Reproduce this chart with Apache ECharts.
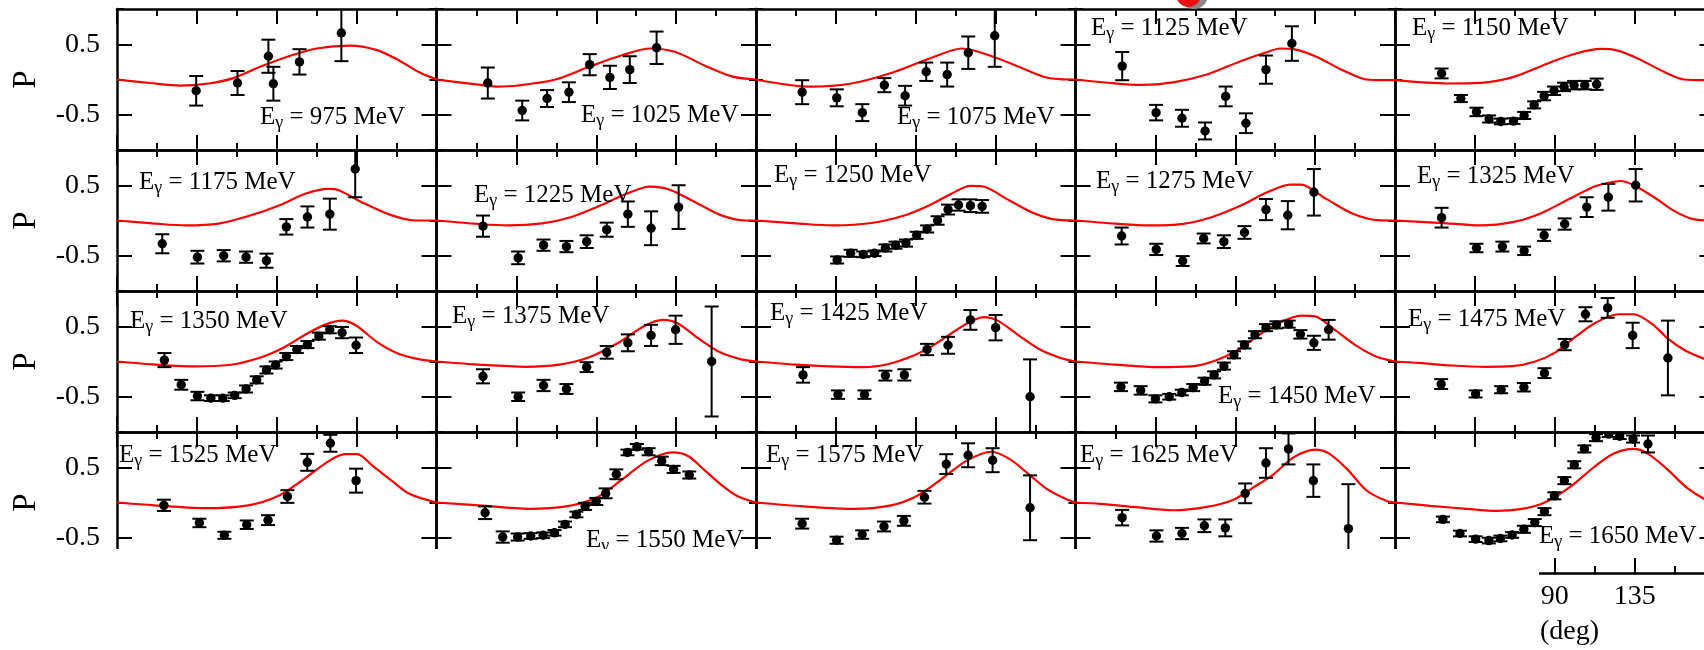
<!DOCTYPE html>
<html><head><meta charset="utf-8">
<script src="https://cdn.jsdelivr.net/npm/echarts@6/dist/echarts.min.js"></script>
<style>html,body{margin:0;padding:0;background:#fff}#c{width:1704px;height:650px}</style>
</head><body><div id="c"></div>
<script>
// ---------- data: [angle (deg), P, error] for measured points, [angle, P] for fit curves ----------
const energies = [975,1025,1075,1125,1150,1175,1225,1250,1275,1325,1350,1375,1425,1450,1475,1525,1550,1575,1625,1650];
const xTickStep = 45;
const yTickValues = [-0.5, 0.5];

const pts975 = [[44.6,-0.16,0.21],[67.9,-0.05,0.17],[85.3,0.33,0.235],[88.1,-0.06,0.24],[102.8,0.25,0.18],[126.4,0.66,0.40]];
const fit975 = [[0,0],[18.8,-0.05],[35.6,-0.086],[50.6,-0.06],[65.6,0.02],[80.6,0.18],[95.6,0.32],[112.5,0.44],[131,0.48],[146,0.42],[159,0.27],[170,0.105],[180,0]];

const pts1025 = [[28.9,-0.05,0.22],[48.3,-0.44,0.14],[62.3,-0.27,0.12],[74.6,-0.18,0.14],[86.3,0.21,0.15],[97.7,0.03,0.165],[108.9,0.14,0.19],[124,0.45,0.23]];
const fit1025 = [[0,0],[22.6,-0.07],[34,-0.1],[46,-0.085],[67,0],[86,0.18],[104,0.34],[120.6,0.44],[134.6,0.39],[151,0.2],[167,0.04],[180,0]];

const pts1075 = [[26,-0.18,0.17],[45.5,-0.26,0.12],[59.9,-0.47,0.12],[72.3,-0.08,0.10],[84,-0.23,0.14],[95.9,0.11,0.13],[107.7,0.07,0.17],[119.6,0.38,0.23],[134.5,0.62,0.44]];
const fit1075 = [[0,0],[29.6,-0.10],[53,-0.06],[77,0.10],[100,0.32],[116,0.44],[134,0.32],[148,0.18],[162,0.04],[171,0.005],[180,0]];

const pts1125 = [[26.3,0.19,0.2],[45.4,-0.47,0.11],[60,-0.55,0.12],[73,-0.73,0.12],[84.6,-0.24,0.14],[96,-0.62,0.14],[107.3,0.14,0.2],[121.9,0.51,0.245]];
const fit1125 = [[0,0],[20,-0.05],[36.6,-0.076],[55,-0.04],[74,0.07],[93,0.26],[108,0.39],[115.3,0.44],[122.8,0.43],[136,0.32],[149,0.15],[162,0.01],[171,-0.01],[180,-0.01]];

const pts1150 = [[26.25,0.086,0.07],[37.1,-0.27,0.05],[45.9,-0.46,0.06],[53,-0.56,0.05],[59.6,-0.595,0.04],[66.75,-0.59,0.04],[72.75,-0.51,0.05],[78.4,-0.36,0.05],[84,-0.235,0.06],[89.6,-0.16,0.06],[95.25,-0.105,0.06],[100.9,-0.08,0.06],[106.9,-0.08,0.06],[113.6,-0.067,0.08]];
const fit1150 = [[0,-0.01],[29.6,-0.057],[48,-0.048],[67,0.038],[86,0.228],[101,0.362],[116,0.433],[121.5,0.43],[134.6,0.324],[151.5,0.11],[162.75,0.0],[174,-0.01],[180,-0.01]];

const pts1175 = [[25.5,-0.33,0.135],[45.3,-0.52,0.09],[60.1,-0.50,0.08],[72.7,-0.52,0.08],[84.2,-0.57,0.10],[95.4,-0.09,0.11],[107.3,0.05,0.15],[119.9,0.09,0.22],[134.2,0.73,0.40]];
const fit1175 = [[0,0],[20,-0.04],[39,-0.07],[58,-0.04],[75,0.07],[92,0.22],[106,0.38],[119,0.45],[125,0.43],[139.5,0.24],[154,0.08],[168,0],[180,0]];

const pts1225 = [[26.2,-0.08,0.15],[46,-0.53,0.09],[60.3,-0.35,0.08],[73.2,-0.37,0.08],[84.6,-0.30,0.09],[95.9,-0.13,0.1],[107.8,0.09,0.18],[120.9,-0.11,0.24],[136.4,0.19,0.31]];
const fit1225 = [[0,0],[21.5,-0.045],[40.5,-0.07],[59.6,-0.04],[76,0.05],[93,0.22],[107,0.38],[120.4,0.48],[131,0.44],[145,0.27],[159.8,0.08],[174,0],[180,0]];

const pts1250 = [[45.7,-0.56,0.05],[53.3,-0.465,0.05],[60.4,-0.48,0.04],[66.8,-0.465,0.04],[72.9,-0.39,0.05],[78.6,-0.35,0.05],[84.5,-0.32,0.05],[90.5,-0.21,0.05],[96.4,-0.12,0.05],[102.3,0.0,0.06],[108.2,0.155,0.07],[114.1,0.22,0.08],[120.8,0.21,0.09],[127.4,0.20,0.09]];
const fit1250 = [[0,0],[22.5,-0.04],[43.8,-0.07],[65,-0.035],[84,0.075],[98,0.22],[110,0.38],[120.8,0.49],[129,0.475],[141,0.31],[155,0.12],[167,0.02],[180,0]];

const pts1275 = [[26,-0.22,0.12],[45.5,-0.41,0.08],[60.4,-0.575,0.07],[72.2,-0.255,0.07],[83.6,-0.30,0.09],[95.2,-0.17,0.09],[107.3,0.155,0.15],[119.6,0.075,0.2],[134.3,0.40,0.33]];
const fit1275 = [[0,0],[22.6,-0.045],[41.7,-0.07],[60.8,-0.047],[77,0.05],[93.8,0.22],[108,0.40],[121,0.51],[127,0.51],[141,0.31],[156,0.1],[170,0.005],[180,0]];

const pts1325 = [[26.25,0.04,0.14],[45.9,-0.39,0.06],[60.5,-0.37,0.07],[72.75,-0.43,0.06],[84,-0.21,0.08],[95.6,-0.05,0.08],[108,0.19,0.14],[120.2,0.33,0.19],[135.6,0.5,0.23]];
const fit1325 = [[0,0],[29.6,-0.04],[48,-0.07],[67,-0.02],[82,0.1],[97,0.29],[112,0.48],[119.6,0.53],[127,0.56],[134.6,0.5],[146,0.33],[157,0.14],[168,0.02],[180,0]];

const pts1350 = [[26.7,0.02,0.1],[36.2,-0.33,0.07],[45.3,-0.49,0.06],[52.9,-0.52,0.04],[59.6,-0.52,0.04],[66.3,-0.48,0.04],[72.7,-0.39,0.05],[78.7,-0.26,0.05],[84.2,-0.12,0.05],[89.4,-0.05,0.05],[95.4,0.07,0.05],[101.3,0.17,0.05],[107.3,0.24,0.05],[113.7,0.36,0.05],[119.9,0.45,0.05],[126.8,0.41,0.08],[134.7,0.23,0.11]];
const fit1350 = [[0,0],[20,-0.04],[44,-0.07],[63,-0.05],[80,0.05],[94,0.2],[106,0.38],[118,0.53],[127,0.58],[134.7,0.51],[146.6,0.275],[158.6,0.11],[170.5,0.03],[180,0]];

const pts1375 = [[26.2,-0.21,0.1],[46,-0.50,0.06],[60.3,-0.34,0.08],[73.2,-0.39,0.07],[84.6,-0.08,0.07],[95.9,0.13,0.09],[107.8,0.265,0.12],[120.9,0.37,0.15],[134.7,0.45,0.2],[155,0.0,0.78]];
const fit1375 = [[0,0],[21.5,-0.04],[50,-0.075],[69,-0.045],[86,0.06],[102.5,0.265],[116.8,0.5],[127.6,0.59],[136,0.54],[148,0.32],[159.8,0.13],[171.7,0.03],[180,0]];

const pts1425 = [[26.5,-0.19,0.11],[46.2,-0.47,0.06],[61.1,-0.47,0.06],[72.9,-0.2,0.07],[83.6,-0.19,0.08],[96.4,0.17,0.08],[108.2,0.23,0.12],[120.8,0.59,0.14],[135,0.48,0.18],[154.4,-0.50,0.53]];
const fit1425 = [[0,0],[22.5,-0.045],[41.4,-0.07],[60.4,-0.08],[74.6,-0.035],[88.8,0.085],[100.6,0.24],[112.5,0.44],[122,0.58],[128.4,0.63],[136.2,0.58],[148,0.37],[160,0.17],[171.7,0.05],[180,0]];

const pts1450 = [[25.6,-0.36,0.06],[36.7,-0.41,0.06],[45,-0.53,0.05],[52.8,-0.5,0.04],[59.9,-0.44,0.04],[66.3,-0.37,0.05],[72.7,-0.28,0.05],[78.1,-0.19,0.05],[83.6,-0.065,0.05],[89.3,0.095,0.05],[95.2,0.235,0.05],[101.1,0.38,0.05],[107.3,0.48,0.05],[113.2,0.52,0.05],[120.1,0.53,0.05],[126.7,0.385,0.06],[134.3,0.265,0.1],[142.6,0.45,0.14]];
const fit1450 = [[0,0],[22.5,-0.045],[46.2,-0.08],[65,-0.07],[79,0.015],[91,0.155],[103,0.37],[114.8,0.545],[127,0.65],[135,0.64],[145.6,0.46],[157.5,0.235],[169,0.075],[180,0]];

const pts1475 = [[26,-0.32,0.07],[45.4,-0.46,0.05],[59.8,-0.40,0.05],[72.6,-0.365,0.06],[84.2,-0.165,0.07],[95.6,0.24,0.08],[107.3,0.67,0.1],[119.8,0.76,0.14],[133.9,0.37,0.18],[153.75,0.05,0.53]];
const fit1475 = [[0,0],[13.5,-0.02],[32,-0.057],[51,-0.075],[66,-0.066],[79,0],[90.4,0.13],[101.6,0.35],[113,0.55],[126,0.67],[134.4,0.67],[144.75,0.535],[154,0.32],[163.5,0.155],[174,0.04],[180,0]];

const pts1525 = [[26.4,-0.04,0.08],[46.4,-0.29,0.06],[60.5,-0.465,0.05],[73.1,-0.315,0.06],[85.1,-0.25,0.07],[96,0.085,0.09],[107.2,0.57,0.12],[120.2,0.84,0.12],[134.7,0.31,0.17]];
const fit1525 = [[0,0],[21,-0.04],[49,-0.08],[73.8,-0.04],[91.4,0.1],[105.5,0.335],[119.5,0.59],[128.3,0.685],[135.4,0.685],[144,0.52],[154.7,0.31],[165,0.12],[180,0]];

const pts1550 = [[27.4,-0.145,0.09],[37.3,-0.49,0.08],[45.7,-0.49,0.05],[53.1,-0.475,0.04],[60.1,-0.465,0.04],[66.5,-0.43,0.04],[72.4,-0.31,0.04],[78.8,-0.17,0.04],[83.7,-0.055,0.05],[90,0.015,0.05],[95.3,0.13,0.07],[101.3,0.40,0.07],[107.6,0.71,0.04],[112.9,0.79,0.04],[119.5,0.72,0.05],[126.9,0.59,0.06],[133.6,0.47,0.05],[142.4,0.39,0.05]];
const fit1550 = [[0,0],[23.9,-0.04],[52,-0.09],[73,-0.055],[90.7,0.075],[104.8,0.33],[118.8,0.59],[132.9,0.71],[141.7,0.66],[150.5,0.47],[161,0.24],[170,0.085],[180,0]];

const pts1575 = [[26,-0.30,0.07],[45.4,-0.535,0.05],[59.8,-0.455,0.06],[72.1,-0.34,0.07],[83.3,-0.26,0.07],[94.9,0.075,0.09],[107.2,0.545,0.14],[119.5,0.67,0.17],[133.3,0.60,0.17],[154.4,-0.075,0.46]];
const fit1575 = [[0,0],[27,-0.055],[55,-0.09],[76,-0.04],[90.4,0.09],[104.4,0.33],[118.5,0.59],[132.6,0.72],[143,0.615],[153.7,0.40],[164,0.19],[174.6,0.05],[180,0]];

const pts1625 = [[26.25,-0.215,0.11],[45.6,-0.475,0.08],[60,-0.44,0.08],[72.6,-0.33,0.09],[84.4,-0.36,0.12],[95.6,0.13,0.14],[107.3,0.56,0.21],[120,0.76,0.22],[134,0.31,0.23],[153.75,-0.37,0.63]];
const fit1625 = [[0,0],[14,-0.02],[32.8,-0.062],[55,-0.11],[74,-0.062],[89,0.04],[100,0.21],[111.6,0.40],[122.8,0.64],[135,0.75],[142.5,0.70],[152.8,0.48],[164,0.17],[175.3,0.02],[180,0]];

const pts1650 = [[27,-0.24,0.04],[36.6,-0.44,0.04],[45.4,-0.52,0.04],[52.9,-0.54,0.04],[59.4,-0.51,0.04],[66,-0.46,0.04],[72.6,-0.38,0.05],[78.75,-0.285,0.05],[84.2,-0.13,0.05],[89.8,0.095,0.05],[95.4,0.31,0.05],[101,0.535,0.05],[106.7,0.76,0.05],[113.25,0.92,0.05],[120.4,0.97,0.04],[126.6,0.94,0.04],[134.1,0.90,0.05],[142.5,0.83,0.12]];
const fit1650 = [[0,0],[20,-0.048],[38.8,-0.086],[57.6,-0.12],[70.7,-0.095],[82,-0.024],[91.3,0.095],[100.7,0.26],[112,0.5],[123,0.69],[134.4,0.76],[142,0.70],[153,0.48],[164.4,0.21],[174.2,0.05],[180,0]];

const panelPoints = [pts975,pts1025,pts1075,pts1125,pts1150,pts1175,pts1225,pts1250,pts1275,pts1325,pts1350,pts1375,pts1425,pts1450,pts1475,pts1525,pts1550,pts1575,pts1625,pts1650];
const panelFits = [fit975,fit1025,fit1075,fit1125,fit1150,fit1175,fit1225,fit1250,fit1275,fit1325,fit1350,fit1375,fit1425,fit1450,fit1475,fit1525,fit1550,fit1575,fit1625,fit1650];

// ---------- layout / style ----------
const FONT = "'Liberation Serif','Times New Roman',serif";
const LEFT0 = 117, COLW = 319.5, TOP0 = 9, ROWH = 141;
// label anchor: left x of "E", vertical centre of capitals
const labelPos = [[260,117],[581,115],[897,117],[1091,28],[1412,28],
                  [139,182],[474,195],[774,175],[1096,181],[1417,176],
                  [130,321],[452,316],[770,313],[1218,396],[1408,319],
                  [119,455],[586,540],[766,455],[1080,455],[1539,536]];

const mctx = document.createElement('canvas').getContext('2d');
function tw(t, s){ mctx.font = s + "px 'Liberation Serif'"; return mctx.measureText(t).width; }

const grids = [], xAxes = [], yAxes = [], series = [], graphics = [];
const black = '#000';
function errRender(params, api){
  const x = api.value(0), y = api.value(1), e = api.value(2);
  const p = api.coord([x, y]), t = api.coord([x, y + e]), b = api.coord([x, y - e]);
  const cw = 7, ls = {stroke: black, lineWidth: 2};
  return {type:'group', children:[
    {type:'line', shape:{x1:p[0], y1:t[1], x2:p[0], y2:b[1]}, style:ls},
    {type:'line', shape:{x1:p[0]-cw, y1:t[1], x2:p[0]+cw, y2:t[1]}, style:ls},
    {type:'line', shape:{x1:p[0]-cw, y1:b[1], x2:p[0]+cw, y2:b[1]}, style:ls},
    {type:'circle', shape:{cx:p[0], cy:p[1], r:4.7}, style:{fill:black}}
  ]};
}

for (let i = 0; i < energies.length; i++){
  const r = Math.floor(i / 5), c = i % 5;
  grids.push({left: LEFT0 + c*COLW, top: TOP0 + r*ROWH, width: COLW, height: ROWH,
    containLabel:false, outerBoundsMode:'none'});
  const xBase = {gridIndex:i, type:'value', min:0, max:180, interval:xTickStep,
    axisLine:{onZero:false, lineStyle:{color:black, width:2.5}},
    axisTick:{inside:true, length:15, lineStyle:{color:black, width:2}},
    minorTick:{show:true, splitNumber:2, length:7, lineStyle:{color:black, width:2}},
    splitLine:{show:false}, minorSplitLine:{show:false}};
  xAxes.push(Object.assign({}, xBase, {position:'bottom',
    axisLabel:{show: r === 3, showMaxLabel:false, margin:10, fontSize:28, fontFamily:FONT, color:black, hideOverlap:false}}));
  xAxes.push(Object.assign({}, xBase, {position:'top', axisLabel:{show:false}}));
  const yMaj = {gridIndex:i, type:'value', min:-1, max:1, interval:0.5,
    axisLine:{onZero:false, lineStyle:{color:black, width:2.5}},
    axisTick:{inside:true, length:15, customValues:yTickValues, lineStyle:{color:black, width:2}},
    splitLine:{show:false}};
  yAxes.push(Object.assign({}, yMaj, {position:'left',
    axisLabel:{show: c === 0, customValues:yTickValues, margin:17, fontSize:28, fontFamily:FONT, color:black}}));
  yAxes.push(Object.assign({}, yMaj, {position:'right', axisLabel:{show:false}}));
  const yMin = {gridIndex:i, type:'value', min:-1, max:1, interval:1,
    axisLine:{show:false, onZero:false},
    axisTick:{inside:true, length:7, lineStyle:{color:black, width:2}},
    axisLabel:{show:false}, splitLine:{show:false}};
  yAxes.push(Object.assign({}, yMin, {position:'left'}));
  yAxes.push(Object.assign({}, yMin, {position:'right'}));

  series.push({type:'line', xAxisIndex:2*i, yAxisIndex:4*i, data:panelFits[i], smooth:0.3,
    showSymbol:false, silent:true, clip:true, z:3, lineStyle:{color:'#ff0000', width:2.2}});
  series.push({type:'custom', xAxisIndex:2*i, yAxisIndex:4*i, data:panelPoints[i],
    renderItem:errRender, clip:true, silent:true, z:4});

  // energy label  E_γ = ... MeV
  const [lx, ly] = labelPos[i];
  const wE = tw('E', 25), wG = tw('γ', 18);
  const ts = {fontFamily:FONT, fill:black, align:'left', verticalAlign:'middle'};
  graphics.push({type:'text', x:lx, y:ly, z:5, style:Object.assign({text:'E', fontSize:25}, ts)});
  graphics.push({type:'text', x:lx + wE, y:ly + 6, z:5, style:Object.assign({text:'γ', fontSize:18}, ts)});
  graphics.push({type:'text', x:lx + wE + wG, y:ly, z:5, style:Object.assign({text:' = ' + energies[i] + ' MeV', fontSize:25}, ts)});
}
for (let r = 0; r < 4; r++){
  graphics.push({type:'text', x:26, y:TOP0 + r*ROWH + ROWH/2, rotation:Math.PI/2, z:5,
    style:{text:'P', fontSize:33, fontFamily:FONT, fill:black, align:'center', verticalAlign:'middle'}});
}
graphics.push({type:'text', x:1599, y:632, z:90,
  style:{text:'(deg)', fontSize:28, fontFamily:FONT, fill:black, align:'right', verticalAlign:'middle'}});
graphics.push({type:'rect', shape:{x:0, y:549, width:1539, height:101}, z:100, style:{fill:'#fff'}});
graphics.push({type:'circle', shape:{cx:1194, cy:-5, r:14}, z:100, style:{fill:'#8a8a8a'}});
graphics.push({type:'circle', shape:{cx:1188.5, cy:-5.5, r:12.5}, z:101, style:{fill:'#ee1111'}});

const chart = echarts.init(document.getElementById('c'), null, {renderer:'canvas'});
chart.setOption({
  backgroundColor:'#fff', animation:false,
  grid:grids, xAxis:xAxes, yAxis:yAxes, series:series, graphic:graphics
});
</script></body></html>
